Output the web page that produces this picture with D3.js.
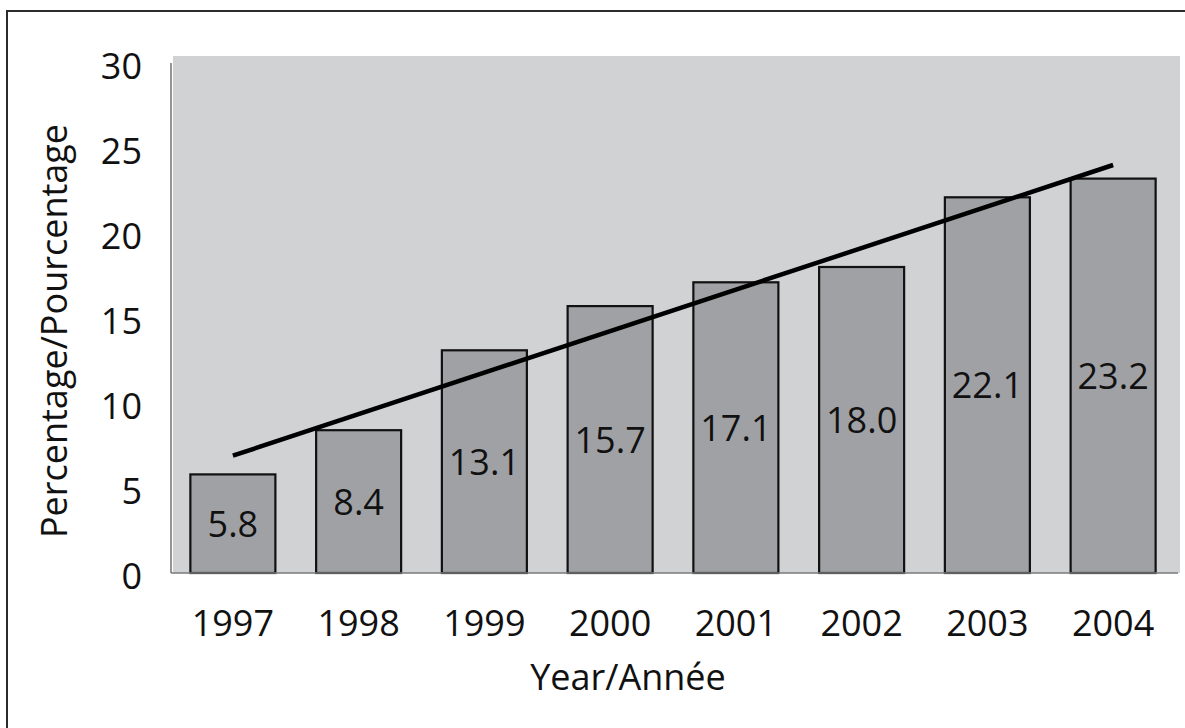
<!DOCTYPE html>
<html>
<head>
<meta charset="utf-8">
<script src="https://cdn.jsdelivr.net/npm/d3@7"></script>
<style>
  html, body { margin: 0; padding: 0; background: #ffffff; }
  svg { display: block; }
  text { font-family: "Open Sans", "Noto Sans", sans-serif; fill: #111; }
</style>
</head>
<body>
<svg id="chart" width="1185" height="728"></svg>
<script>
// ---- data ----
const years = ["1997", "1998", "1999", "2000", "2001", "2002", "2003", "2004"];
const percentages = [5.8, 8.4, 13.1, 15.7, 17.1, 18.0, 22.1, 23.2];
const barLabels = ["5.8", "8.4", "13.1", "15.7", "17.1", "18.0", "22.1", "23.2"];
const trendStart = 6.9;   // trend value read at 1997
const trendEnd = 24.0;    // trend value read at 2004
const yTicks = [0, 5, 10, 15, 20, 25, 30];
const xTitle = "Year/Année";
const yTitle = "Percentage/Pourcentage";

// ---- layout ----
const svg = d3.select("#chart");
const plot = { left: 173, right: 1180, top: 56, bottom: 573 };

const x = d3.scaleBand()
  .domain(years)
  .range([170, 1176])
  .paddingInner(0.324)
  .paddingOuter(0.162);

const y = d3.scaleLinear().domain([0, 30]).range([573, 63]);

// outer frame
svg.append("rect")
  .attr("x", 7).attr("y", 11)
  .attr("width", 1200).attr("height", 740)
  .attr("fill", "none")
  .attr("stroke", "#2b2b2b")
  .attr("stroke-width", 2);

// plot background
svg.append("rect")
  .attr("x", plot.left).attr("y", plot.top)
  .attr("width", plot.right - plot.left)
  .attr("height", plot.bottom - plot.top)
  .attr("fill", "#d1d2d4");

// bars
svg.append("g").selectAll("rect")
  .data(percentages)
  .join("rect")
  .attr("x", (d, i) => x(years[i]))
  .attr("y", d => y(d))
  .attr("width", x.bandwidth())
  .attr("height", d => y(0) - y(d))
  .attr("fill", "#a0a1a5")
  .attr("stroke", "#111")
  .attr("stroke-width", 2.2);

// baseline (x axis line)
svg.append("line")
  .attr("x1", 171).attr("x2", 1178)
  .attr("y1", y(0)).attr("y2", y(0))
  .attr("stroke", "#7a7a7a").attr("stroke-width", 1.6);

// y axis line
svg.append("line")
  .attr("x1", 171).attr("x2", 171)
  .attr("y1", y(30)).attr("y2", y(0))
  .attr("stroke", "#7a7a7a").attr("stroke-width", 1.6);

// trend line
const trend = [[years[0], trendStart], [years[years.length - 1], trendEnd]];
svg.append("path")
  .datum(trend)
  .attr("d", d3.line()
    .x(d => x(d[0]) + x.bandwidth() / 2)
    .y(d => y(d[1])))
  .attr("fill", "none")
  .attr("stroke", "#000")
  .attr("stroke-width", 4.5);

// bar value labels
svg.append("g").selectAll("text")
  .data(percentages)
  .join("text")
  .attr("x", (d, i) => x(years[i]) + x.bandwidth() / 2)
  .attr("y", d => y(d / 2) + 13)
  .attr("text-anchor", "middle")
  .attr("font-size", 36)
  .text((d, i) => barLabels[i]);

// y tick labels
svg.append("g").selectAll("text")
  .data(yTicks)
  .join("text")
  .attr("x", 142)
  .attr("y", d => y(d) + 16)
  .attr("text-anchor", "end")
  .attr("font-size", 36)
  .text(d => d);

// x tick labels
svg.append("g").selectAll("text")
  .data(years)
  .join("text")
  .attr("x", d => x(d) + x.bandwidth() / 2)
  .attr("y", 636)
  .attr("text-anchor", "middle")
  .attr("font-size", 36)
  .text(d => d);

// axis titles
svg.append("text")
  .attr("x", 628).attr("y", 690)
  .attr("text-anchor", "middle")
  .attr("font-size", 36)
  .text(xTitle);

svg.append("text")
  .attr("transform", "translate(67,331) rotate(-90)")
  .attr("text-anchor", "middle")
  .attr("font-size", 36)
  .text(yTitle);
</script>
</body>
</html>
